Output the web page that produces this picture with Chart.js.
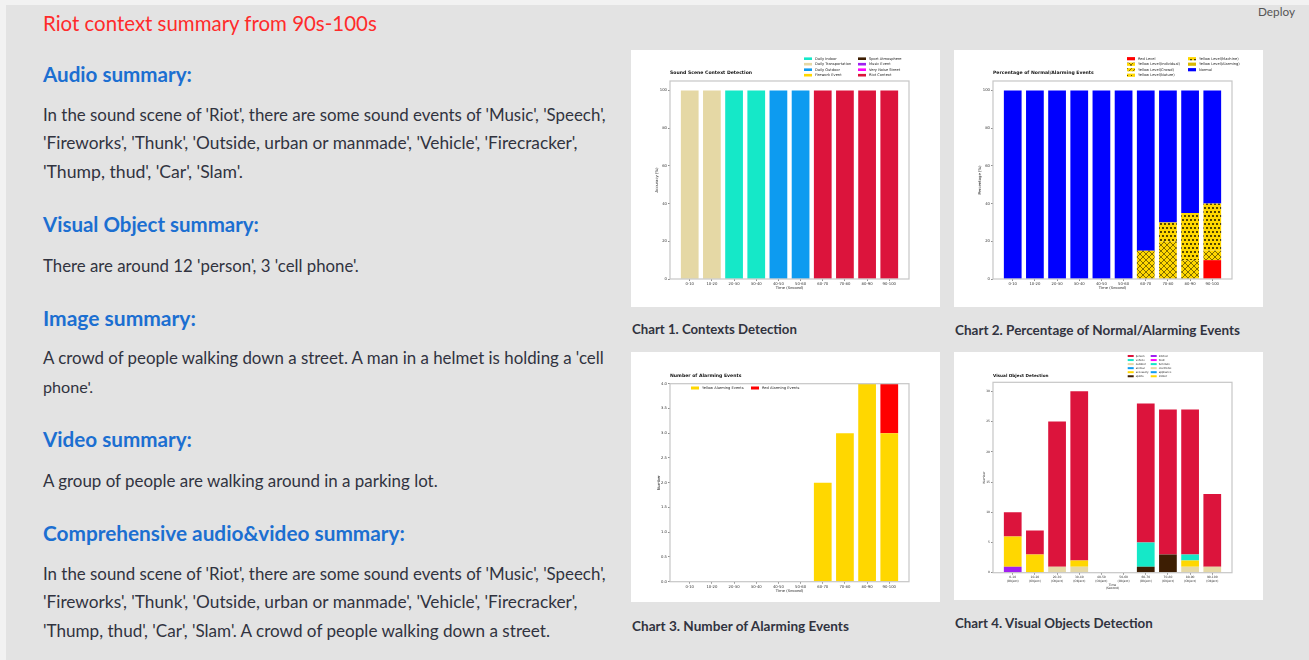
<!DOCTYPE html>
<html>
<head>
<meta charset="utf-8">
<script src="https://cdn.jsdelivr.net/npm/chart.js@4.4.0/dist/chart.umd.min.js"></script>
<style>
  html, body { margin: 0; padding: 0; }
  body { width: 1309px; height: 660px; background: #f2f2f2; overflow: hidden; font-family: 'Lato', sans-serif; }
  .page { position: absolute; left: 6px; top: 5px; right: 0; bottom: 0; background: #e3e3e3; }
  .t { position: absolute; left: 43px; white-space: nowrap; transform: translateY(-50%); line-height: 1.2; }
  .title { color: #ff2b2b; font-size: 21px; }
  .head { color: #1c6fd1; font-size: 21px; font-weight: bold; }
  .body { color: #31333f; font-size: 16px; }
  .cap { color: #31333f; font-size: 14px; font-weight: bold; }
  .deploy { color: #555; font-size: 13px; }
  .card { position: absolute; background: #fff; }
  .card canvas { display: block; }
</style>
</head>
<body>
<div class="page"></div>

<div class="t deploy" style="left:1258px;top:12px" data-w="37">Deploy</div>

<div class="t title" style="top:23px" data-w="334">Riot context summary from 90s-100s</div>

<div class="t head" style="top:74px" data-w="149">Audio summary:</div>
<div class="t body" style="top:115px" data-w="563">In the sound scene of 'Riot', there are some sound events of 'Music', 'Speech',</div>
<div class="t body" style="top:143px" data-w="535">'Fireworks', 'Thunk', 'Outside, urban or manmade', 'Vehicle', 'Firecracker',</div>
<div class="t body" style="top:172px" data-w="200">'Thump, thud', 'Car', 'Slam'.</div>

<div class="t head" style="top:224px" data-w="216">Visual Object summary:</div>
<div class="t body" style="top:266px" data-w="316">There are around 12 'person', 3 'cell phone'.</div>

<div class="t head" style="top:318px" data-w="153">Image summary:</div>
<div class="t body" style="top:358px" data-w="561">A crowd of people walking down a street. A man in a helmet is holding a 'cell</div>
<div class="t body" style="top:387px" data-w="50">phone'.</div>

<div class="t head" style="top:439px" data-w="149">Video summary:</div>
<div class="t body" style="top:481px" data-w="395">A group of people are walking around in a parking lot.</div>

<div class="t head" style="top:533px" data-w="362">Comprehensive audio&amp;video summary:</div>
<div class="t body" style="top:574px" data-w="563">In the sound scene of 'Riot', there are some sound events of 'Music', 'Speech',</div>
<div class="t body" style="top:602px" data-w="535">'Fireworks', 'Thunk', 'Outside, urban or manmade', 'Vehicle', 'Firecracker',</div>
<div class="t body" style="top:631px" data-w="507">'Thump, thud', 'Car', 'Slam'. A crowd of people walking down a street.</div>

<div class="card" style="left:631px;top:50px;width:309px;height:257px"><canvas id="chart1" width="309" height="257"></canvas></div>
<div class="card" style="left:954px;top:50px;width:309px;height:257px"><canvas id="chart2" width="309" height="257"></canvas></div>
<div class="card" style="left:631px;top:352px;width:309px;height:250px"><canvas id="chart3" width="309" height="250"></canvas></div>
<div class="card" style="left:954px;top:352px;width:309px;height:248px"><canvas id="chart4" width="309" height="248"></canvas></div>

<div class="t cap" style="left:632px;top:330px" data-w="165">Chart 1. Contexts Detection</div>
<div class="t cap" style="left:955px;top:330px" data-w="285">Chart 2. Percentage of Normal/Alarming Events</div>
<div class="t cap" style="left:632px;top:626px" data-w="217">Chart 3. Number of Alarming Events</div>
<div class="t cap" style="left:955px;top:623px" data-w="198">Chart 4. Visual Objects Detection</div>

<script>
// time segments (x axis)
const segments = ['0-10', '10-20', '20-30', '30-40', '40-50', '50-60', '60-70', '70-80', '80-90', '90-100'];
const positions = [0, 1, 2, 3, 4, 5, 6, 7, 8, 9];

// chart 1 - sound scene context per segment
const contextNames = ['Daily Indoor', 'Daily Transportation', 'Daily Outdoor', 'Firework Event',
                      'Sport Atmosphere', 'Music Event', 'Very Noise Street', 'Riot Context'];
const sceneBySegment = ['Daily Transportation', 'Daily Transportation', 'Daily Indoor', 'Daily Indoor',
                        'Daily Outdoor', 'Daily Outdoor', 'Riot Context', 'Riot Context', 'Riot Context', 'Riot Context'];
const sceneAccuracy = [100, 100, 100, 100, 100, 100, 100, 100, 100, 100];
const percentTicks = [0, 20, 40, 60, 80, 100];

// chart 2 - percentage of normal / alarming events
const levelNames = ['Red Level', 'Yellow Level(Individual)', 'Yellow Level(Crowd)', 'Yellow Level(Nature)',
                    'Yellow Level(Machine)', 'Yellow Level(Alarming)', 'Normal'];
const redLevel = [0, 0, 0, 0, 0, 0, 0, 0, 0, 10];
const yellowIndividual = [0, 0, 0, 0, 0, 0, 15, 20, 10, 5];
const yellowCrowd = [0, 0, 0, 0, 0, 0, 0, 0, 0, 0];
const yellowNature = [0, 0, 0, 0, 0, 0, 0, 0, 0, 0];
const yellowMachine = [0, 0, 0, 0, 0, 0, 0, 10, 25, 25];
const yellowAlarming = [0, 0, 0, 0, 0, 0, 0, 0, 0, 0];
const normalLevel = [100, 100, 100, 100, 100, 100, 85, 70, 65, 60];

// chart 3 - number of alarming events
const yellowEvents = [0, 0, 0, 0, 0, 0, 2, 3, 4, 3];
const redEvents = [0, 0, 0, 0, 0, 0, 0, 0, 0, 1];
const numberTicks = [0, 0.5, 1, 1.5, 2, 2.5, 3, 3.5, 4];

// chart 4 - visual objects per segment (legend order)
const objectNames = ['person', 'vehicle', 'outdoor', 'animal', 'accessory', 'sports',
                     'kitchen', 'food', 'furniture', 'electronic', 'appliance', 'indoor'];
const personCount = [4, 4, 24, 28, 0, 0, 23, 24, 24, 12];
const vehicleCount = [0, 0, 0, 0, 0, 0, 4, 0, 1, 0];
const outdoorCount = [0, 0, 0, 0, 0, 0, 0, 0, 0, 0];
const animalCount = [0, 0, 0, 0, 0, 0, 0, 0, 0, 0];
const accessoryCount = [5, 3, 0, 1, 0, 0, 0, 0, 1, 0];
const sportsCount = [0, 0, 0, 0, 0, 0, 1, 3, 0, 0];
const kitchenCount = [1, 0, 0, 0, 0, 0, 0, 0, 0, 0];
const foodCount = [0, 0, 0, 0, 0, 0, 0, 0, 0, 0];
const furnitureCount = [0, 0, 0, 0, 0, 0, 0, 0, 0, 0];
const electronicCount = [0, 0, 1, 1, 0, 0, 0, 0, 1, 1];
const applianceCount = [0, 0, 0, 0, 0, 0, 0, 0, 0, 0];
const indoorCount = [0, 0, 0, 0, 0, 0, 0, 0, 0, 0];
const countTicks = [0, 5, 10, 15, 20, 25, 30];

// colours
const palette = {
  turquoise: '#15e8c8', beige: '#e5d8a5', blue: '#0d9bf0', gold: '#ffd700',
  brown: '#3d1e03', purple: '#a020f0', magenta: '#ff00ff', crimson: '#dc143c'
};
const contextColors = [palette.turquoise, palette.beige, palette.blue, palette.gold,
                       palette.brown, palette.purple, palette.magenta, palette.crimson];

// fit the page text to the widths of the original
document.querySelectorAll('[data-w]').forEach(function(el) {
  const w = el.getBoundingClientRect().width;
  const fs = parseFloat(getComputedStyle(el).fontSize);
  el.style.fontSize = (fs * el.dataset.w / w) + 'px';
});

// hatch fills for the yellow levels
function hatch(kind) {
  const c = document.createElement('canvas');
  c.width = kind === 'cross' ? 6 : 4;
  c.height = kind === 'cross' ? 6 : kind === 'dots' ? 8 : 4;
  const g = c.getContext('2d');
  g.fillStyle = palette.gold;
  g.fillRect(0, 0, c.width, c.height);
  g.strokeStyle = '#000';
  g.fillStyle = '#000';
  g.lineWidth = 0.5;
  if (kind === 'cross') {
    g.beginPath();
    g.moveTo(0, 0); g.lineTo(6, 6);
    g.moveTo(6, 0); g.lineTo(0, 6);
    g.stroke();
  } else if (kind === 'dots') {
    g.beginPath(); g.arc(1, 2, 0.9, 0, Math.PI * 2); g.fill();
    g.beginPath(); g.arc(3, 6, 0.9, 0, Math.PI * 2); g.fill();
  } else if (kind === 'slash') {
    g.beginPath(); g.moveTo(0, 4); g.lineTo(4, 0); g.stroke();
  } else if (kind === 'small') {
    g.fillRect(1, 1, 0.8, 0.8);
  }
  return g.createPattern(c, 'repeat');
}
const levelColors = ['#ff0000', hatch('cross'), hatch('slash'), hatch('small'), hatch('dots'), '#d9b800', '#0000ff'];

// frame, title and legend drawn like the matplotlib figure
const figureDecor = {
  id: 'figureDecor',
  afterDatasetsDraw(chart) {
    const {ctx, chartArea: a} = chart;
    ctx.save();
    ctx.strokeStyle = '#c6c6c6';
    ctx.lineWidth = 1.2;
    ctx.strokeRect(a.left, a.top, a.right - a.left, a.bottom - a.top);
    ctx.restore();
  },
  afterDraw(chart, args, opts) {
    const ctx = chart.ctx;
    ctx.save();
    ctx.textBaseline = 'middle';
    ctx.fillStyle = '#111';
    ctx.font = 'bold ' + opts.titleSize + 'px "DejaVu Sans"';
    ctx.fillText(opts.title, chart.chartArea.left, opts.titleY);
    const lg = opts.legend;
    ctx.font = lg.size + 'px "DejaVu Sans"';
    lg.order.forEach(function(di, k) {
      const col = Math.floor(k / lg.perCol);
      const row = k % lg.perCol;
      const x = lg.x + col * lg.colW;
      const y = lg.y + row * lg.rowH;
      const ds = chart.data.datasets[di];
      ctx.fillStyle = ds.backgroundColor;
      ctx.fillRect(x, y - lg.boxH / 2, lg.boxW, lg.boxH);
      ctx.fillStyle = '#222';
      ctx.fillText(ds.label, x + lg.boxW + lg.gap, y);
    });
    ctx.restore();
  }
};

function barOptions(cfg) {
  return {
    responsive: false,
    animation: false,
    layout: { padding: cfg.padding },
    datasets: { bar: { categoryPercentage: 1, barPercentage: 0.8 } },
    plugins: {
      legend: { display: false },
      tooltip: { enabled: false },
      figureDecor: cfg.decor
    },
    scales: {
      x: {
        type: 'linear',
        stacked: true,
        offset: false,
        min: -0.89,
        max: 9.89,
        afterBuildTicks: function(s) { s.ticks = positions.map(function(v) { return { value: v }; }); },
        afterFit: function(s) { s.height = cfg.xHeight; },
        border: { display: false },
        grid: { offset: false, drawOnChartArea: false, tickLength: 2, color: '#444', lineWidth: 0.6 },
        ticks: {
          autoSkip: false, maxRotation: 0, padding: 1, color: '#333',
          font: { family: 'DejaVu Sans', size: cfg.tickSize },
          callback: cfg.xLabel
        },
        title: { display: true, text: cfg.xTitle, color: '#222', padding: 0,
                 font: { family: 'DejaVu Sans', size: cfg.tickSize } }
      },
      y: {
        stacked: true,
        min: 0,
        max: cfg.yMax,
        afterBuildTicks: function(s) { s.ticks = cfg.yTicks.map(function(v) { return { value: v }; }); },
        afterFit: function(s) { s.width = cfg.yWidth; },
        border: { display: false },
        grid: { drawOnChartArea: false, tickLength: 2, color: '#444', lineWidth: 0.6 },
        ticks: {
          padding: 1, color: '#333',
          font: { family: 'DejaVu Sans', size: cfg.tickSize },
          callback: cfg.yLabel || function(v) { return v; }
        },
        title: { display: true, text: cfg.yTitle, color: '#222', padding: 0,
                 font: { family: 'DejaVu Sans', size: cfg.tickSize } }
      }
    }
  };
}

// Chart 1
new Chart(document.getElementById('chart1'), {
  type: 'bar',
  data: {
    labels: positions,
    datasets: contextNames.map(function(name, k) {
      return {
        label: name,
        data: sceneAccuracy.map(function(v, i) { return sceneBySegment[i] === name ? v : 0; }),
        backgroundColor: contextColors[k]
      };
    })
  },
  options: barOptions({
    padding: { left: 23.6, top: 31, right: 31, bottom: 16.3 },
    xHeight: 11.7, yWidth: 15.4, tickSize: 3.8, yMax: 105, yTicks: percentTicks,
    xTitle: 'Time (Second)', yTitle: 'Accuracy (%)',
    xLabel: function(v) { return segments[v]; },
    decor: {
      title: 'Sound Scene Context Detection', titleSize: 4.6, titleY: 22.7,
      legend: { order: [0, 1, 2, 3, 4, 5, 6, 7], perCol: 4, x: 173, colW: 54, y: 8.7, rowH: 5.5,
                boxW: 8, boxH: 2.6, gap: 3, size: 3.6 }
    }
  }),
  plugins: [figureDecor]
});

// Chart 2
const levelSeries = [redLevel, yellowIndividual, yellowCrowd, yellowNature, yellowMachine, yellowAlarming, normalLevel];
new Chart(document.getElementById('chart2'), {
  type: 'bar',
  data: {
    labels: positions,
    datasets: levelNames.map(function(name, k) {
      return { label: name, data: levelSeries[k], backgroundColor: levelColors[k] };
    })
  },
  options: barOptions({
    padding: { left: 23.6, top: 31, right: 31, bottom: 16.3 },
    xHeight: 11.7, yWidth: 15.4, tickSize: 3.8, yMax: 105, yTicks: percentTicks,
    xTitle: 'Time (Second)', yTitle: 'Percentage (%)',
    xLabel: function(v) { return segments[v]; },
    decor: {
      title: 'Percentage of Normal/Alarming Events', titleSize: 4.6, titleY: 22.7,
      legend: { order: [0, 1, 2, 3, 4, 5, 6], perCol: 4, x: 173, colW: 61, y: 8.7, rowH: 5.5,
                boxW: 8, boxH: 3.2, gap: 3, size: 3.6 }
    }
  }),
  plugins: [figureDecor]
});

// Chart 3
new Chart(document.getElementById('chart3'), {
  type: 'bar',
  data: {
    labels: positions,
    datasets: [
      { label: 'Yellow Alarming Events', data: yellowEvents, backgroundColor: palette.gold },
      { label: 'Red Alarming Events', data: redEvents, backgroundColor: '#ff0000' }
    ]
  },
  options: barOptions({
    padding: { left: 25.3, top: 31.7, right: 31, bottom: 8.9 },
    xHeight: 11.4, yWidth: 13.7, tickSize: 3.8, yMax: 4, yTicks: numberTicks,
    xTitle: 'Time (Second)', yTitle: 'Number',
    xLabel: function(v) { return segments[v]; },
    yLabel: function(v) { return v.toFixed(1); },
    decor: {
      title: 'Number of Alarming Events', titleSize: 4.6, titleY: 23.3,
      legend: { order: [0, 1], perCol: 1, x: 60, colW: 60, y: 36, rowH: 5,
                boxW: 8, boxH: 3, gap: 3, size: 3.6 }
    }
  }),
  plugins: [figureDecor]
});

// Chart 4 - stacked bottom to top in reverse legend order
const objectSeries = [personCount, vehicleCount, outdoorCount, animalCount, accessoryCount, sportsCount,
                      kitchenCount, foodCount, furnitureCount, electronicCount, applianceCount, indoorCount];
const objectColors = [palette.crimson, palette.turquoise, palette.beige, palette.blue, palette.gold, palette.brown,
                      palette.purple, palette.magenta, palette.turquoise, palette.beige, palette.blue, palette.gold];
const objectDatasets = objectNames.map(function(name, k) {
  return { label: name, data: objectSeries[k], backgroundColor: objectColors[k] };
}).reverse();
new Chart(document.getElementById('chart4'), {
  type: 'bar',
  data: { labels: positions, datasets: objectDatasets },
  options: barOptions({
    padding: { left: 28.9, top: 30.3, right: 31, bottom: 9.6 },
    xHeight: 17.7, yWidth: 10.1, tickSize: 3, yMax: 31.5, yTicks: countTicks,
    xTitle: ['Time', '(Second)'], yTitle: 'Number',
    xLabel: function(v) { return [segments[v], '(Object)']; },
    decor: {
      title: 'Visual Object Detection', titleSize: 4.2, titleY: 24,
      legend: { order: [11, 10, 9, 8, 7, 6, 5, 4, 3, 2, 1, 0], perCol: 6, x: 173.7, colW: 23, y: 4, rowH: 4.05,
                boxW: 6, boxH: 2, gap: 2, size: 2.6 }
    }
  }),
  plugins: [figureDecor]
});
</script>
</body>
</html>
